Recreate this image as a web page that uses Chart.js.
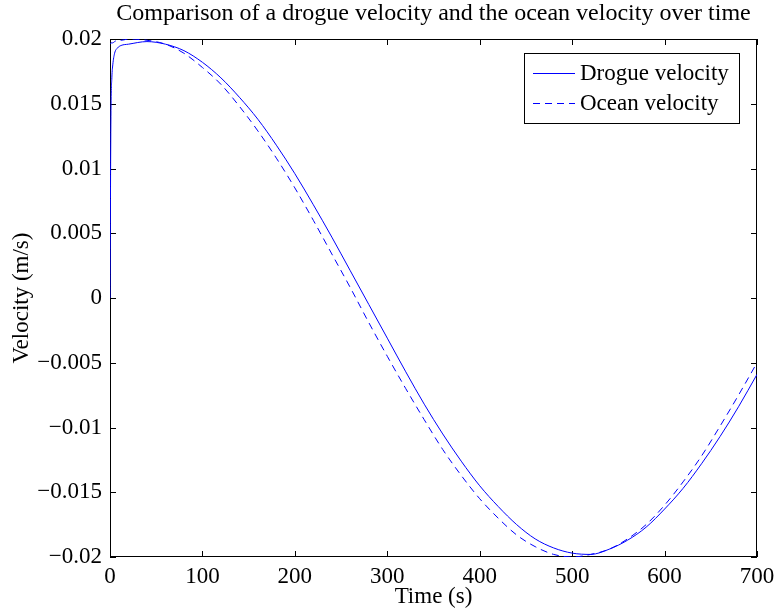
<!DOCTYPE html>
<html>
<head>
<meta charset="utf-8">
<script src="https://cdn.jsdelivr.net/npm/chart.js@4.4.0/dist/chart.umd.min.js"></script>
<style>
  html, body { margin: 0; padding: 0; background: #fff; }
  #wrap { width: 777px; height: 613px; }
</style>
</head>
<body>
<div id="wrap"><canvas id="velocitychart" width="777" height="613"></canvas></div>
<script>
var chartTitle = "Comparison of a drogue velocity and the ocean velocity over time";
var seriesNames = ["Drogue velocity", "Ocean velocity"];

// time (s)
var timeValues = [0, 1, 2, 3, 5, 8, 12, 20, 40, 60, 80, 100, 120, 140, 160, 180, 200, 220, 240, 260,
  280, 300, 320, 340, 360, 380, 400, 420, 440, 460, 480, 500, 520, 540, 560, 580, 600, 620, 640,
  660, 680, 700];

// velocity (m/s)
var drogueValues = [0, 0.0140, 0.0170, 0.0180, 0.0189, 0.0193, 0.0195, 0.0196, 0.0198, 0.0196, 0.0191,
  0.0182, 0.0170, 0.0155, 0.0138, 0.0118, 0.0096, 0.0072, 0.0047, 0.0021,
  -0.0005, -0.0031, -0.0057, -0.0082, -0.0105, -0.0126, -0.0145, -0.0161, -0.0175, -0.0186,
  -0.0193, -0.0197, -0.0198, -0.0194, -0.0187, -0.0177, -0.0163, -0.0147, -0.0128,
  -0.0107, -0.0084, -0.0059];

var oceanValues = [0.0196, 0.0197, 0.0197, 0.0197, 0.0198, 0.0199, 0.0199, 0.0200, 0.0199, 0.0196, 0.0189,
  0.0178, 0.0165, 0.0148, 0.0129, 0.0108, 0.0085, 0.0060, 0.0034, 0.0008,
  -0.0019, -0.0045, -0.0070, -0.0094, -0.0117, -0.0137, -0.0155, -0.0170, -0.0183, -0.0192,
  -0.0198, -0.0200, -0.0198, -0.0194, -0.0186, -0.0175, -0.0160, -0.0142, -0.0122,
  -0.0099, -0.0075, -0.0050];

var xTickLabels = ["0", "100", "200", "300", "400", "500", "600", "700"];
var yTickLabels = ["\u22120.02", "\u22120.015", "\u22120.01", "\u22120.005", "0", "0.005", "0.01", "0.015", "0.02"];

var serif = "'Liberation Serif', 'Times New Roman', serif";

function toPoints(xs, ys) {
  var pts = [];
  for (var i = 0; i < xs.length; i++) pts.push({ x: xs[i], y: ys[i] });
  return pts;
}

// box and inward ticks on all four sides (under the curves), then title and legend
var matlabFrame = {
  id: 'matlabFrame',
  beforeDatasetsDraw: function(chart) {
    var ctx = chart.ctx;
    var a = chart.chartArea;
    var xs = chart.scales.x, ys = chart.scales.y;
    var tl = 6;
    ctx.save();
    ctx.strokeStyle = '#000';
    ctx.lineWidth = 1;
    ctx.strokeRect(a.left + 0.5, a.top + 0.5, a.right - a.left - 1, a.bottom - a.top - 1);
    ctx.beginPath();
    xs.ticks.forEach(function(t) {
      var px = Math.round(xs.getPixelForValue(t.value)) + 0.5;
      ctx.moveTo(px, a.bottom); ctx.lineTo(px, a.bottom - tl);
      ctx.moveTo(px, a.top); ctx.lineTo(px, a.top + tl);
    });
    ys.ticks.forEach(function(t) {
      var py = Math.round(ys.getPixelForValue(t.value)) + 0.5;
      ctx.moveTo(a.left, py); ctx.lineTo(a.left + tl, py);
      ctx.moveTo(a.right, py); ctx.lineTo(a.right - tl, py);
    });
    ctx.stroke();
    ctx.restore();
  },
  afterDraw: function(chart) {
    var ctx = chart.ctx;
    var a = chart.chartArea;
    ctx.save();
    // title
    ctx.fillStyle = '#000';
    ctx.font = '24px ' + serif;
    ctx.textAlign = 'center';
    ctx.textBaseline = 'middle';
    ctx.fillText(chartTitle, (a.left + a.right) / 2, 14);

    // legend
    var lx = 524, ly = 53, lw = 215, lh = 70;
    ctx.fillStyle = '#fff';
    ctx.fillRect(lx, ly, lw, lh);
    ctx.strokeStyle = '#000';
    ctx.lineWidth = 1;
    ctx.strokeRect(lx + 0.5, ly + 0.5, lw, lh);
    ctx.font = '23px ' + serif;
    ctx.textAlign = 'left';
    chart.data.datasets.forEach(function(ds, i) {
      var y = ly + 20 + i * 30 + 0.5;
      ctx.strokeStyle = ds.borderColor;
      ctx.setLineDash(ds.borderDash || []);
      ctx.beginPath();
      ctx.moveTo(lx + 9, y); ctx.lineTo(lx + 51, y);
      ctx.stroke();
      ctx.setLineDash([]);
      ctx.fillStyle = '#000';
      ctx.fillText(ds.label, lx + 56, y);
    });
    ctx.restore();
  }
};

var ctx = document.getElementById("velocitychart").getContext("2d");
var velocitychart = new Chart(ctx, {
  type: 'line',
  data: {
    datasets: [
      {
        label: seriesNames[0],
        data: toPoints(timeValues, drogueValues),
        borderColor: '#0000ff',
        borderWidth: 1,
        pointRadius: 0,
        cubicInterpolationMode: 'monotone',
        fill: false
      },
      {
        label: seriesNames[1],
        data: toPoints(timeValues, oceanValues),
        borderColor: '#0000ff',
        borderWidth: 1,
        borderDash: [7, 5],
        pointRadius: 0,
        cubicInterpolationMode: 'monotone',
        fill: false
      }
    ]
  },
  options: {
    responsive: false,
    animation: false,
    layout: { padding: { top: 39, right: 20, left: 0, bottom: 0 } },
    plugins: {
      legend: { display: false },
      title: { display: false },
      tooltip: { enabled: false }
    },
    scales: {
      x: {
        type: 'linear',
        min: 0,
        max: 700,
        afterFit: function(scale) {
          scale.height = 56;
          scale.paddingLeft = 0;
          scale.paddingRight = 0;
        },
        grid: { display: false, drawTicks: false },
        border: { display: false },
        ticks: {
          stepSize: 100,
          padding: 6,
          color: '#000',
          maxRotation: 0,
          font: { family: serif, size: 23 },
          callback: function(value, index) { return xTickLabels[index]; }
        },
        title: {
          display: true,
          text: 'Time (s)',
          color: '#000',
          padding: { top: 0, bottom: 2 },
          font: { family: serif, size: 23 }
        }
      },
      y: {
        min: -0.02,
        max: 0.02,
        afterFit: function(scale) {
          scale.width = 110;
          scale.paddingTop = 0;
          scale.paddingBottom = 0;
        },
        grid: { display: false, drawTicks: false },
        border: { display: false },
        ticks: {
          stepSize: 0.005,
          padding: 8,
          color: '#000',
          font: { family: serif, size: 23 },
          callback: function(value, index) { return yTickLabels[index]; }
        },
        title: {
          display: true,
          text: 'Velocity (m/s)',
          color: '#000',
          padding: { top: 8, bottom: 0 },
          font: { family: serif, size: 23 }
        }
      }
    }
  },
  plugins: [matlabFrame]
});
</script>
</body>
</html>
